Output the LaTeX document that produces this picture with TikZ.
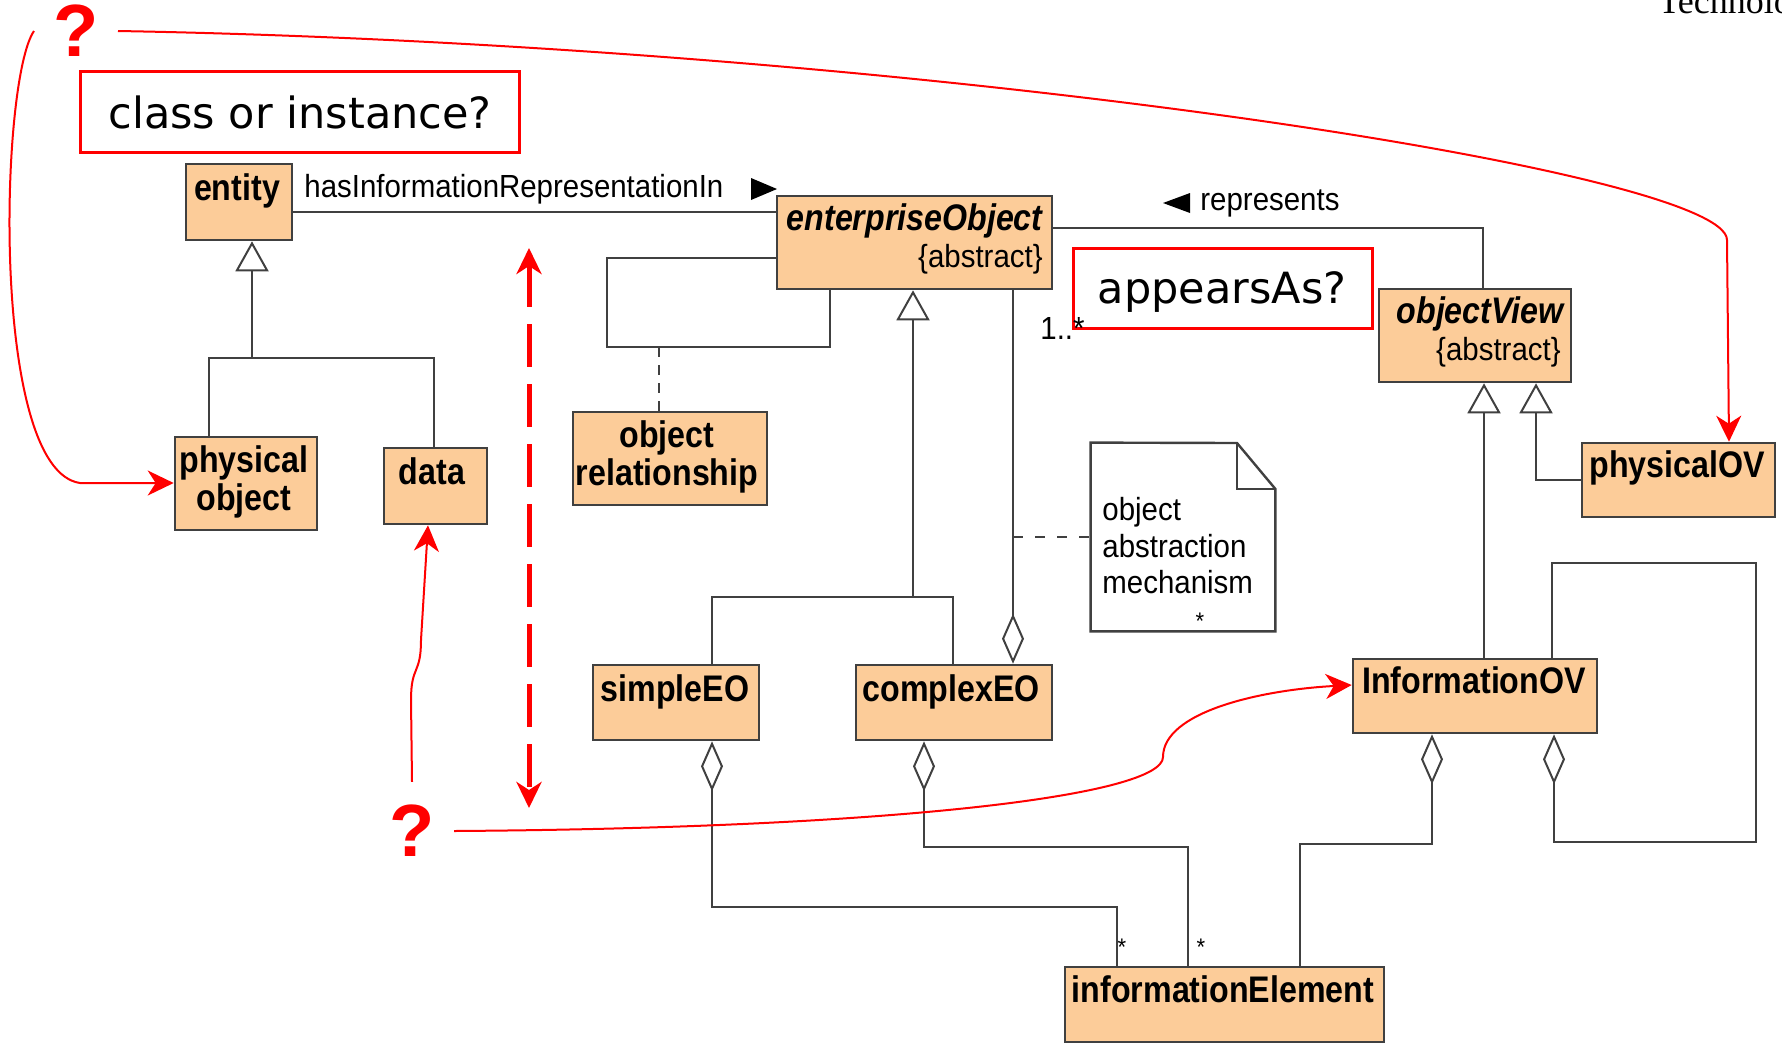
\documentclass[tikz,border=0pt]{standalone}
\usepackage{fontspec}
\setmainfont{Liberation Sans}
\newfontfamily\clsfont[FakeStretch=0.87]{Liberation Sans}
\newfontfamily\lblfont[FakeStretch=0.92]{Liberation Sans}
\newfontfamily\askfont{DejaVu Sans}
\newfontfamily\qfont{Liberation Sans}
\newfontfamily\hdrfont{Liberation Serif}
\usetikzlibrary{arrows.meta, fit}

\definecolor{peach}{RGB}{252,204,153}
\definecolor{umlgray}{RGB}{64,64,64}

% rectangle node spanning two corners: [style]{name}{x1}{y1}{x2}{y2}
\newcommand\umlrect[6][clsbox]{%
  \path (#3,#4) coordinate (#2-a) (#5,#6) coordinate (#2-b);
  \node[#1, fit=(#2-a)(#2-b)] (#2) {};}

\begin{document}
\begin{tikzpicture}[x=0.5pt, y=-0.5pt,
  clsbox/.style={draw=umlgray, line width=1.3pt, fill=peach, inner sep=0pt},
  notebox/.style={inner sep=0pt},
  askbox/.style={draw=red, line width=1.5pt, fill=white, inner sep=0pt},
  clsname/.style={font=\clsfont\bfseries\fontsize{18.5}{19}\selectfont, inner sep=0pt, anchor=base},
  absname/.style={font=\clsfont\bfseries\itshape\fontsize{18.5}{19}\selectfont, inner sep=0pt, anchor=base east},
  lbl/.style={font=\lblfont\fontsize{16}{18.25}\selectfont, inner sep=0pt},
  mult/.style={font=\lblfont\fontsize{12}{12}\selectfont, inner sep=0pt},
  asktext/.style={font=\askfont\fontsize{21.5}{24}\selectfont, inner sep=0pt, anchor=base},
  qmark/.style={font=\qfont\bfseries\fontsize{37}{40}\selectfont, text=red, inner xsep=9.5pt, inner ysep=11.5pt},
  uml/.style={draw=umlgray, line width=1pt},
  gen/.style={uml, -{Triangle[open, length=15pt, width=16.5pt]}},
  agg/.style={uml, {Diamond[open, length=25pt, width=11pt]}-},
  redarrow/.style={draw=red, line width=1pt, -{Stealth[length=13pt, width=12.5pt, inset=4pt]}},
  reddash/.style={draw=red, line width=2.5pt, dash pattern=on 21.5pt off 8.5pt,
    {Stealth[length=13pt, width=12.5pt, inset=4pt]}-{Stealth[length=13pt, width=12.5pt, inset=4pt]}},
]
\useasboundingbox (0,0) rectangle (1782,1045);

% ---------- junction points ----------
\coordinate (ej) at (252,358);
\coordinate (eoj) at (913,597);
\coordinate (loopcorner) at (607,347);
\coordinate (loopfoot) at (659,347);
\coordinate (notepin) at (1013,537);

% ---------- class boxes ----------
\umlrect{entity}{186}{164}{292}{240}
\umlrect{pobj}{175}{437}{317}{530}
\umlrect{data}{384}{448}{487}{524}
\umlrect{orel}{573}{412}{767}{505}
\umlrect{eo}{777}{196}{1052}{289}
\umlrect{ov}{1379}{289}{1571}{382}
\umlrect{pov}{1582}{443}{1775}{517}
\umlrect{seo}{593}{665}{759}{740}
\umlrect{ceo}{856}{665}{1052}{740}
\umlrect{iov}{1353}{659}{1597}{733}
\umlrect{ie}{1065}{967}{1384}{1042}
\umlrect[notebox]{note}{1091}{443}{1275}{631}

% ---------- UML connectors ----------
\draw[uml] (entity.east |- 0,212) -- (eo.west |- 0,212);
\draw[gen] (ej) -- (entity.south -| 252,0);
\draw[uml] (pobj.north -| 209,0) |- (ej) -| (data.north -| 434,0);
\draw[uml] (eo.west |- 0,258) -| (loopcorner) -| (eo.south -| 830,0);
\draw[uml, dash pattern=on 5pt off 4pt] (loopfoot) -- (orel.north -| 659,0);
\draw[gen] (eoj) -- (eo.south -| 913,0);
\draw[uml] (seo.north -| 712,0) |- (eoj) -| (ceo.north -| 953,0);
\draw[agg] (ceo.north -| 1013,0) -- (eo.south -| 1013,0);
\draw[uml, dash pattern=on 5pt off 6pt] (notepin) -- (note.west |- notepin);
\draw[uml] (eo.east |- 0,228) -| (ov.north -| 1483,0);
\draw[gen] (iov.north -| 1484,0) -- (ov.south -| 1484,0);
\draw[gen] (pov.west |- 0,480) -| (ov.south -| 1536,0);
\draw[agg] (seo.south -| 712,0) -- (712,907) -| (ie.north -| 1117,0);
\draw[agg] (ceo.south -| 924,0) -- (924,847) -| (ie.north -| 1188,0);
\draw[agg] (iov.south -| 1432,0) -- (1432,844) -| (ie.north -| 1300,0);
\draw[agg] (iov.south -| 1554,0) -- (1554,842) -- (1756,842) -- (1756,563) -| (iov.north -| 1552,0);

% class boxes drawn again over the line ends
\foreach \n/\xa/\ya/\xb/\yb in {entity/186/164/292/240, pobj/175/437/317/530, data/384/448/487/524,
  orel/573/412/767/505, eo/777/196/1052/289, ov/1379/289/1571/382, pov/1582/443/1775/517,
  seo/593/665/759/740, ceo/856/665/1052/740, iov/1353/659/1597/733, ie/1065/967/1384/1042}
  \draw[draw=umlgray, line width=1.3pt, fill=peach] (\xa,\ya) rectangle (\xb,\yb);

% note with folded corner
\draw[uml, line width=1.2pt, fill=white] (note.north west) -- (1237,443) -- (note.east |- 0,489)
  -- (note.south east) -- (note.south west) -- cycle;
\draw[uml] (1237,443) -- (1237,489) -- (note.east |- 0,489);

% association direction markers
\fill[black] (751,178) -- (777,189) -- (751,200) -- cycle;
\fill[black] (1190,193) -- (1163,203) -- (1190,213) -- cycle;

% ---------- question boxes ----------
\umlrect[askbox]{cbox}{80}{71}{519}{152}
\umlrect[askbox]{abox}{1073}{248}{1372}{328}
\node[asktext] (cbox-t) at (300,128) {class or instance?};
\node[asktext] (abox-t) at (1222,303) {appearsAs?};

% ---------- class names ----------
\node[clsname] (entity-t) at (237,200) {entity};
\node[clsname, align=center, anchor=north] (pobj-t) at (244,445) {physical\\object};
\node[clsname] (data-t) at (432,484) {data};
\node[clsname, align=center, anchor=north] (orel-t) at (667,420) {object\\relationship};
\node[absname] (eo-t) at (1043,230) {enterpriseObject};
\node[lbl, anchor=base east] (eo-s) at (1043,267) {\{abstract\}};
\node[absname] (ov-t) at (1564,323) {objectView};
\node[lbl, anchor=base east] (ov-s) at (1561,360) {\{abstract\}};
\node[clsname] (pov-t) at (1677,477) {physicalOV};
\node[clsname] (seo-t) at (675,701) {simpleEO};
\node[clsname] (ceo-t) at (951,701) {complexEO};
\node[clsname] (iov-t) at (1474,693) {InformationOV};
\node[clsname] (ie-t) at (1223,1002) {informationElement};
\node[lbl, align=left, anchor=north west] (note-t) at (1102,497) {object\\abstraction\\mechanism};

% ---------- association labels ----------
\node[lbl, anchor=base west] (rel1) at (304,197) {hasInformationRepresentationIn};
\node[lbl, anchor=base west] (rel2) at (1200,210) {represents};
\node[lbl, anchor=base west] (m0) at (1040,339) {1..*};
\node[mult] (m1) at (1122,947) {*};
\node[mult] (m2) at (1201,947) {*};
\node[mult] (m3) at (1200,621) {*};

% ---------- header fragment ----------
\node[font=\hdrfont\fontsize{18}{20}\selectfont, anchor=base west, inner sep=0pt] (hdr) at (1658,13) {Technolo};

% ---------- red annotations ----------
\node[qmark] (q1) at (76,31) {?};
\node[qmark] (q2) at (412,831) {?};
\coordinate (rd-top) at (529,248);
\coordinate (rd-bot) at (529,808);
\draw[reddash] (rd-top) -- (rd-bot);
\draw[redarrow] (q1.east) .. controls (900,45) and (1727,170) .. (1727,240) -- (pov.north -| 1729,0);
\draw[redarrow] (q1.west) .. controls (0,80) and (-10,470) .. (80,483) -- (pobj.west |- 0,483);
\draw[redarrow] (q2.north) -- (411,700) .. controls (411,665) and (421,675) .. (421,640) -- (data.south -| 428,0);
\draw[redarrow] (q2.east) .. controls (900,828) and (1163,795) .. (1163,757)
  .. controls (1163,712) and (1260,690) .. (iov.west |- 0,685);
\end{tikzpicture}
\end{document}
